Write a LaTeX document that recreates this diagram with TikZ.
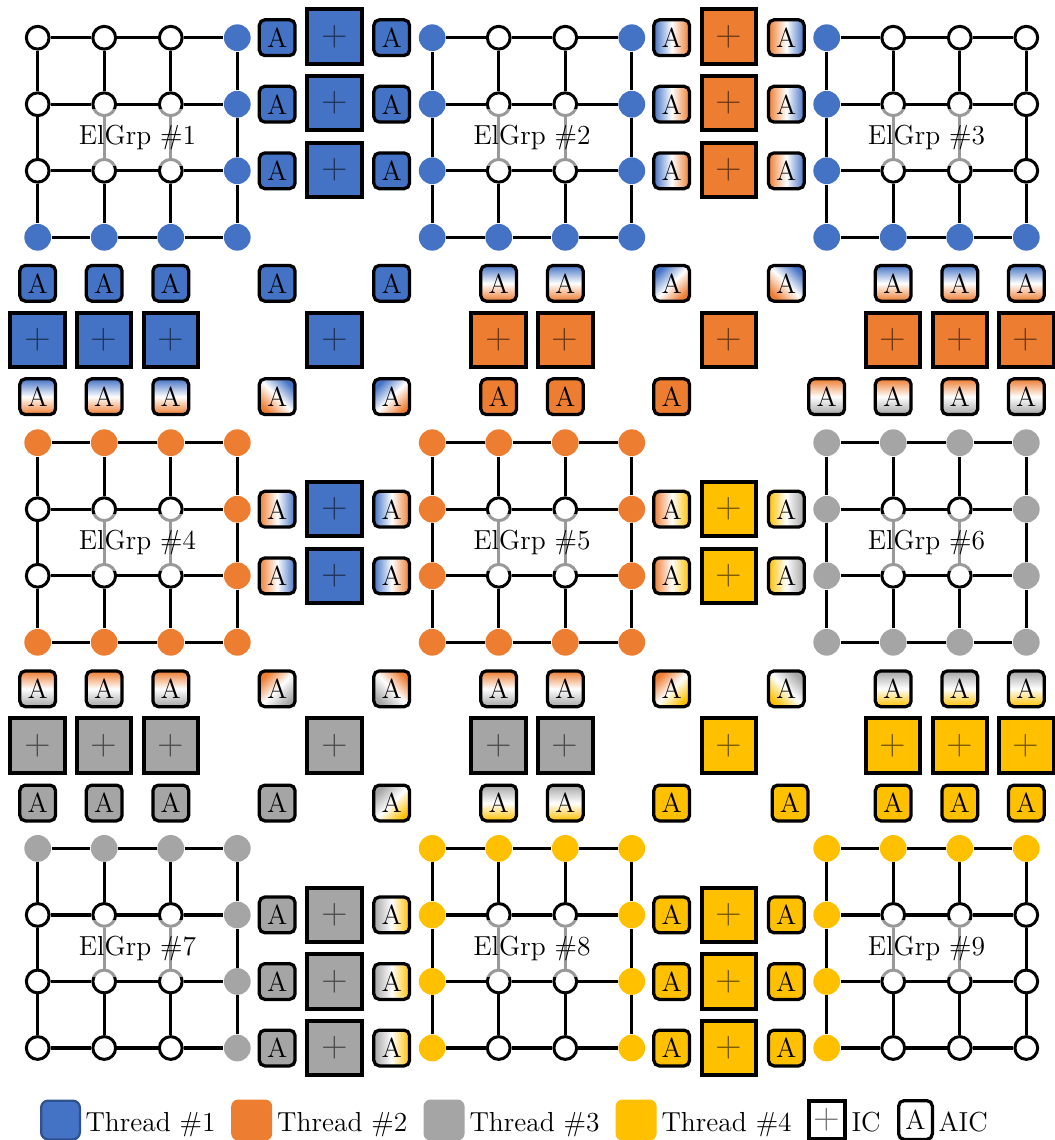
\documentclass[tikz,border=0pt]{standalone}
\definecolor{tblue}{HTML}{4472C4}
\definecolor{tbluedark}{HTML}{2F528F}
\definecolor{torange}{HTML}{ED7D31}
\definecolor{tgray}{HTML}{A5A5A5}
\definecolor{tyellow}{HTML}{FFC000}
\newcommand\elfont{\fontsize{11}{13}\selectfont}
\newcommand\plusfont{\fontsize{14}{16}\selectfont}
\tikzset{
  gline/.style={line width=1.3pt, black},
  wnode/.style={circle, draw=black, fill=white, line width=1.2pt, minimum size=9.1pt, inner sep=0pt},
  cnode/.style={circle, draw=none, minimum size=10.7pt, inner sep=0pt},
  aic/.style={draw=black, rounded corners=2.2pt, line width=1.3pt, minimum size=14.3pt, inner sep=0pt, font=\elfont},
  icbox/.style={draw=black, line width=1.6pt, minimum size=21.8pt, inner sep=0pt, font=\plusfont, text opacity=0.55},
  grplab/.style={fill=white, fill opacity=0.6, text opacity=1, minimum height=22.9pt, inner xsep=3.3pt, font=\elfont},
  vg/.style 2 args={top color=#1, bottom color=#2, middle color=white},
  hg/.style 2 args={left color=#1, right color=#2, middle color=white},
  dgl/.style 2 args={top color=#1, bottom color=#2, middle color=white, shading angle=45},
  dgr/.style 2 args={top color=#1, bottom color=#2, middle color=white, shading angle=-45},
  lbox/.style={rounded corners=2.8pt, minimum size=16.4pt, inner sep=0pt, draw=none},
  ltext/.style={anchor=base west, inner sep=0pt, font=\elfont},
}
\newcommand\elgrp[8]{%
  \foreach \i in {0,...,3}{%
    \foreach \j in {0,...,3}{%
      \pgfmathtruncatemacro\on{((\j==0)&&(#5==1))||((\j==3)&&(#6==1))||((\i==0)&&(#7==1))||((\i==3)&&(#8==1))}%
      \ifnum\on=1
        \node[cnode,fill=#4] (g#1-\i-\j) at ({#2+66.53*\i},{#3+66.53*\j}) {};
      \else
        \node[wnode] (g#1-\i-\j) at ({#2+66.53*\i},{#3+66.53*\j}) {};
      \fi
    }%
  }%
  \foreach \i in {0,...,3}{%
    \foreach \j/\k in {0/1,1/2,2/3}{%
      \draw[gline] (g#1-\i-\j) -- (g#1-\i-\k);
      \draw[gline] (g#1-\j-\i) -- (g#1-\k-\i);
    }%
  }%
  \node[grplab] (lab#1) at ({#2+99.8},{#3+99.8}) {ElGrp \##1};
}
\begin{document}
\begin{tikzpicture}[x=0.4pt,y=-0.4pt]
\useasboundingbox (0,0) rectangle (1054,1140);

% element groups
\elgrp{1}{37.7}{37.7}{tblue}{0}{1}{0}{1}
\elgrp{2}{432.2}{37.7}{tblue}{0}{1}{1}{1}
\elgrp{3}{826.7}{37.7}{tblue}{0}{1}{1}{0}
\elgrp{4}{37.7}{442.7}{torange}{1}{1}{0}{1}
\elgrp{5}{432.2}{442.7}{torange}{1}{1}{1}{1}
\elgrp{6}{826.7}{442.7}{tgray}{1}{1}{1}{1}
\elgrp{7}{37.7}{848.4}{tgray}{1}{0}{0}{1}
\elgrp{8}{432.2}{848.4}{tyellow}{1}{0}{1}{1}
\elgrp{9}{826.7}{848.4}{tyellow}{1}{0}{1}{0}

% vertical interfaces, row 0
\foreach \y [count=\n] in {37.7,104.2,170.8}{
  \node[aic,fill=tblue] (va01l\n) at (277.2,\y) {A};
  \node[icbox,fill=tblue] (va01i\n) at (334.7,{\y-1}) {+};
  \node[aic,fill=tblue] (va01r\n) at (391.7,\y) {A};
  \node[aic,hg={tblue}{torange}] (va12l\n) at (671.7,\y) {A};
  \node[icbox,fill=torange] (va12i\n) at (729.2,{\y-1}) {+};
  \node[aic,hg={torange}{tblue}] (va12r\n) at (786.3,\y) {A};
}
% vertical interfaces, row 1
\foreach \y [count=\n] in {509.2,575.8}{
  \node[aic,hg={torange}{tblue}] (vb01l\n) at (277.2,\y) {A};
  \node[icbox,fill=tblue] (vb01i\n) at (334.7,\y) {+};
  \node[aic,hg={tblue}{torange}] (vb01r\n) at (391.7,\y) {A};
  \node[aic,hg={torange}{tyellow}] (vb12l\n) at (671.7,\y) {A};
  \node[icbox,fill=tyellow] (vb12i\n) at (729.2,\y) {+};
  \node[aic,hg={tyellow}{tgray}] (vb12r\n) at (786.3,\y) {A};
}
% vertical interfaces, row 2
\foreach \y [count=\n] in {914.9,981.5,1048}{
  \node[aic,fill=tgray] (vc01l\n) at (277.2,\y) {A};
  \node[icbox,fill=tgray] (vc01i\n) at (334.7,\y) {+};
  \node[aic,hg={tgray}{tyellow}] (vc01r\n) at (391.7,\y) {A};
  \node[aic,fill=tyellow] (vc12l\n) at (671.7,\y) {A};
  \node[icbox,fill=tyellow] (vc12i\n) at (729.2,\y) {+};
  \node[aic,fill=tyellow] (vc12r\n) at (786.3,\y) {A};
}

% horizontal interfaces between rows 0 and 1
\foreach \x [count=\n] in {37.7,104.2,170.8}{
  \node[aic,fill=tblue] (ha0t\n) at (\x,283.3) {A};
  \node[icbox,fill=tblue] (ha0i\n) at (\x,340) {+};
  \node[aic,vg={tblue}{torange}] (ha0b\n) at (\x,396.7) {A};
}
\node[aic,fill=tblue] (hac1tl) at (277.2,283.3) {A};
\node[aic,fill=tblue] (hac1tr) at (391.7,283.3) {A};
\node[icbox,fill=tblue] (hac1i) at (334.7,340) {+};
\node[aic,dgr={tblue}{torange}] (hac1bl) at (277.2,396.7) {A};
\node[aic,dgl={tblue}{torange}] (hac1br) at (391.7,396.7) {A};
\foreach \x [count=\n] in {498.7,565.3}{
  \node[aic,vg={tblue}{torange}] (ha1t\n) at (\x,283.3) {A};
  \node[icbox,fill=torange] (ha1i\n) at (\x,340) {+};
  \node[aic,fill=torange] (ha1b\n) at (\x,396.7) {A};
}
\node[aic,dgl={tblue}{torange}] (hac2tl) at (671.7,283.3) {A};
\node[aic,dgr={tblue}{torange}] (hac2tr) at (786.3,283.3) {A};
\node[icbox,fill=torange] (hac2i) at (729.2,340) {+};
\node[aic,fill=torange] (hac2bl) at (671.7,396.7) {A};
\node[aic,vg={torange}{tgray}] (hac2br) at (826.7,396.7) {A};
\foreach \x [count=\n] in {893.2,959.8,1026.3}{
  \node[aic,vg={tblue}{torange}] (ha2t\n) at (\x,283.3) {A};
  \node[icbox,fill=torange] (ha2i\n) at (\x,340) {+};
  \node[aic,vg={torange}{tgray}] (ha2b\n) at (\x,396.7) {A};
}

% horizontal interfaces between rows 1 and 2
\foreach \x [count=\n] in {37.7,104.2,170.8}{
  \node[aic,vg={torange}{tgray}] (hb0t\n) at (\x,688.8) {A};
  \node[icbox,fill=tgray] (hb0i\n) at (\x,745.7) {+};
  \node[aic,fill=tgray] (hb0b\n) at (\x,803) {A};
}
\node[aic,dgl={torange}{tgray}] (hbc1tl) at (277.2,688.8) {A};
\node[aic,dgr={torange}{tgray}] (hbc1tr) at (391.7,688.8) {A};
\node[icbox,fill=tgray] (hbc1i) at (334.7,745.7) {+};
\node[aic,fill=tgray] (hbc1bl) at (277.2,803) {A};
\node[aic,dgl={tgray}{tyellow}] (hbc1br) at (391.7,803) {A};
\foreach \x [count=\n] in {498.7,565.3}{
  \node[aic,vg={torange}{tgray}] (hb1t\n) at (\x,688.8) {A};
  \node[icbox,fill=tgray] (hb1i\n) at (\x,745.7) {+};
  \node[aic,vg={tgray}{tyellow}] (hb1b\n) at (\x,803) {A};
}
\node[aic,dgl={torange}{tyellow}] (hbc2tl) at (671.7,688.8) {A};
\node[aic,dgr={tgray}{tyellow}] (hbc2tr) at (786.3,688.8) {A};
\node[icbox,fill=tyellow] (hbc2i) at (729.2,745.7) {+};
\node[aic,fill=tyellow] (hbc2bl) at (671.7,803) {A};
\node[aic,fill=tyellow] (hbc2br) at (790,803) {A};
\foreach \x [count=\n] in {893.2,959.8,1026.3}{
  \node[aic,vg={tgray}{tyellow}] (hb2t\n) at (\x,688.8) {A};
  \node[icbox,fill=tyellow] (hb2i\n) at (\x,745.7) {+};
  \node[aic,fill=tyellow] (hb2b\n) at (\x,803) {A};
}

% legend
\node[lbox,fill=tblue,draw=tbluedark,line width=0.9pt,minimum size=15.5pt] (lg1) at (60.5,1120) {};
\node[ltext] (lt1) at (85,1131) {Thread \#1};
\node[lbox,fill=torange] (lg2) at (251.7,1120) {};
\node[ltext] (lt2) at (276.7,1131) {Thread \#2};
\node[lbox,fill=tgray] (lg3) at (444,1120) {};
\node[ltext] (lt3) at (469,1131) {Thread \#3};
\node[lbox,fill=tyellow] (lg4) at (636,1120) {};
\node[ltext] (lt4) at (661,1131) {Thread \#4};
\node[icbox,fill=white,minimum width=14.4pt,minimum height=15.2pt] (lg5) at (826.6,1120) {+};
\node[ltext] (lt5) at (851,1131) {IC};
\node[aic,fill=white,minimum width=13.5pt,minimum height=15.5pt] (lg6) at (915.5,1120) {A};
\node[ltext] (lt6) at (938,1131) {AIC};
\end{tikzpicture}
\end{document}
